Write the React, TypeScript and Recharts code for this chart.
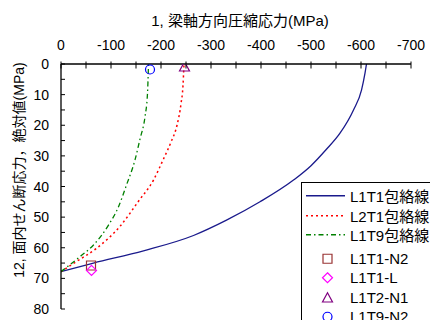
import { ComposedChart, Legend, Line, Scatter, XAxis, YAxis } from 'recharts';

// envelope curves (x: axial stress MPa, y: |shear stress| MPa)
const l1t1X = [0, -65, -165, -265, -331, -398, -465, -500, -530, -558, -585, -601, -608, -611];
const l1t1Y = [67.8, 65, 61, 56, 51, 45, 37.9, 33.2, 28, 22.6, 15, 8.5, 3, 0];

const l2t1X = [0, -31, -71, -118, -155, -185, -205, -220, -232, -240, -244, -246];
const l2t1Y = [67.8, 64.5, 60.2, 53, 44.8, 37.9, 31, 25.5, 20, 13, 7, 0];

const l1t9X = [0, -38, -65, -95, -115, -131, -148, -158, -168, -173, -175];
const l1t9Y = [67.8, 62.9, 59.1, 52.6, 46.6, 39.5, 31.3, 24.5, 17.2, 9.6, 0];

// test points
const l1t1N2 = [{ x: -60, y: 65.8 }];
const l1t1L = [{ x: -61, y: 67.4 }];
const l1t2N1 = [{ x: -247, y: 0.9 }];
const l1t9N2 = [{ x: -178, y: 1.8 }];

const xTicks = [0, -50, -100, -150, -200, -250, -300, -350, -400, -450, -500, -550, -600, -650, -700];
const yTicks = [0, 5, 10, 15, 20, 25, 30, 35, 40, 45, 50, 55, 60, 65, 70, 75, 80];

const xTitle = '1, 梁軸方向圧縮応力(MPa)';
const yTitle = '12, 面内せん断応力，絶対値(MPa)';

const FONT = '"Liberation Sans", Arial, "Noto Sans CJK JP", sans-serif';

const toPoints = (xs: number[], ys: number[]) => xs.map((x, i) => ({ x, y: ys[i] }));

const C = {
  l1t1: '#1a1a8c',
  l2t1: '#ff0000',
  l1t9: '#008000',
  sq: '#993333',
  dia: '#ff00ff',
  tri: '#800080',
  circ: '#0000ff',
};

function sqPath(cx: number, cy: number, r: number) {
  return `M${cx - r},${cy - r}h${2 * r}v${2 * r}h${-2 * r}Z`;
}
function diaPath(cx: number, cy: number, r: number) {
  return `M${cx},${cy - r}L${cx + r},${cy}L${cx},${cy + r}L${cx - r},${cy}Z`;
}
function triPath(cx: number, cy: number, r: number) {
  return `M${cx},${cy - r}L${cx + r},${cy + r * 0.85}L${cx - r},${cy + r * 0.85}Z`;
}

const markerShape = (kind: string, color: string) => (p: any) => {
  const { cx, cy } = p;
  if (kind === 'circle') {
    return <circle cx={cx} cy={cy} r={4.5} fill="none" stroke={color} strokeWidth={1.2} />;
  }
  const d = kind === 'square' ? sqPath(cx, cy, 4.5) : kind === 'diamond' ? diaPath(cx, cy, 5) : triPath(cx, cy, 5);
  return <path d={d} fill="none" stroke={color} strokeWidth={1.2} />;
};

// top axis: tick marks cross the axis line, labels only every 100
const XTick = (props: any) => {
  const { x, y, payload } = props;
  const major = payload.value % 100 === 0;
  return (
    <g>
      <line x1={x} x2={x} y1={y + 11.5} y2={y + 18.5} stroke="#000" strokeWidth={1} />
      {major && (
        <text x={x} y={y} textAnchor="middle" fontSize={14} fill="#000" fontFamily={FONT}>
          {payload.value}
        </text>
      )}
    </g>
  );
};

const YTick = (props: any) => {
  const { x, y, payload } = props;
  if (payload.value % 10 !== 0) return <g />;
  return (
    <text x={x} y={y} textAnchor="end" dominantBaseline="central" fontSize={14} fill="#000" fontFamily={FONT}>
      {payload.value}
    </text>
  );
};

const legendLines = [
  { name: 'L1T1包絡線', color: C.l1t1, dash: undefined, w: 1.3 },
  { name: 'L2T1包絡線', color: C.l2t1, dash: '2 3', w: 1.5 },
  { name: 'L1T9包絡線', color: C.l1t9, dash: '5 3 1.5 3', w: 1.3 },
];
const legendMarkers = [
  { name: 'L1T1-N2', kind: 'square', color: C.sq },
  { name: 'L1T1-L', kind: 'diamond', color: C.dia },
  { name: 'L1T2-N1', kind: 'triangle', color: C.tri },
  { name: 'L1T9-N2', kind: 'circle', color: C.circ },
];

const rowStyle = { height: 19.5, display: 'flex', alignItems: 'center', whiteSpace: 'nowrap' as const };

function renderLegend() {
  return (
    <div
      style={{
        border: '1px solid #000',
        background: '#fff',
        width: 140,
        height: 170,
        paddingTop: 3,
        fontFamily: FONT,
        fontSize: 15,
        color: '#000',
        boxSizing: 'border-box',
      }}
    >
      {legendLines.map((l) => (
        <div key={l.name} style={rowStyle}>
          <svg width={48} height={19.5} style={{ flex: 'none' }}>
            <line x1={4} x2={43} y1={9.75} y2={9.75} stroke={l.color} strokeWidth={l.w} strokeDasharray={l.dash} />
          </svg>
          <span>{l.name}</span>
        </div>
      ))}
      <div style={{ height: 4 }} />
      {legendMarkers.map((m) => (
        <div key={m.name} style={rowStyle}>
          <svg width={48} height={19.5} style={{ flex: 'none' }}>
            {markerShape(m.kind, m.color)({ cx: 25.5, cy: 9.75 })}
          </svg>
          <span>{m.name}</span>
        </div>
      ))}
    </div>
  );
}

export default function App() {
  return (
    <div
      style={{
        position: 'absolute',
        left: 0,
        top: 0,
        width: 430,
        height: 320,
        overflow: 'hidden',
        background: '#fff',
        fontFamily: FONT,
      }}
    >
      <ComposedChart width={430} height={320} margin={{ top: 0, right: 19, bottom: 11, left: 0 }}>
        <XAxis
          dataKey="x"
          type="number"
          orientation="top"
          domain={[-700, 0]}
          reversed
          ticks={xTicks}
          interval={0}
          height={64}
          tickSize={0}
          tickMargin={14}
          tick={<XTick />}
          axisLine={{ stroke: '#000', strokeWidth: 1.3 }}
          tickLine={false}
          allowDataOverflow
          label={{
            content: (p: any) => {
              const vb = p.viewBox;
              return (
                <text
                  x={vb.x + vb.width / 2 + 4}
                  y={20}
                  textAnchor="middle"
                  dominantBaseline="central"
                  fontSize={15}
                  fill="#000"
                  fontFamily={FONT}
                >
                  {xTitle}
                </text>
              );
            },
          }}
        />
        <XAxis
          xAxisId="b"
          type="number"
          orientation="bottom"
          domain={[-700, 0]}
          reversed
          height={0}
          tick={false}
          tickLine={false}
          axisLine={{ stroke: '#808080' }}
        />
        <YAxis
          dataKey="y"
          type="number"
          domain={[0, 80]}
          reversed
          ticks={yTicks}
          interval={0}
          width={61}
          tickSize={-4}
          tickMargin={16}
          tick={<YTick />}
          axisLine={{ stroke: '#000', strokeWidth: 1.3 }}
          tickLine={{ stroke: '#000' }}
          allowDataOverflow
          label={{
            content: () => (
              <text
                x={18.5}
                y={170}
                transform="rotate(-90 18.5 170)"
                textAnchor="middle"
                dominantBaseline="central"
                fontSize={14}
                fill="#000"
                fontFamily={FONT}
              >
                {yTitle}
              </text>
            ),
          }}
        />
        <YAxis
          yAxisId="r"
          type="number"
          orientation="right"
          domain={[0, 80]}
          width={0}
          tick={false}
          tickLine={false}
          axisLine={{ stroke: '#808080' }}
        />
        <Line
          data={toPoints(l1t1X, l1t1Y)}
          dataKey="y"
          type="monotone"
          stroke={C.l1t1}
          strokeWidth={1.3}
          dot={false}
          activeDot={false}
          isAnimationActive={false}
        />
        <Line
          data={toPoints(l2t1X, l2t1Y)}
          dataKey="y"
          type="monotone"
          stroke={C.l2t1}
          strokeWidth={1.5}
          strokeDasharray="2 3"
          dot={false}
          activeDot={false}
          isAnimationActive={false}
        />
        <Line
          data={toPoints(l1t9X, l1t9Y)}
          dataKey="y"
          type="monotone"
          stroke={C.l1t9}
          strokeWidth={1.3}
          strokeDasharray="5 3 1.5 3"
          dot={false}
          activeDot={false}
          isAnimationActive={false}
        />
        <Scatter data={l1t1N2} dataKey="y" shape={markerShape('square', C.sq)} isAnimationActive={false} />
        <Scatter data={l1t1L} dataKey="y" shape={markerShape('diamond', C.dia)} isAnimationActive={false} />
        <Scatter data={l1t2N1} dataKey="y" shape={markerShape('triangle', C.tri)} isAnimationActive={false} />
        <Scatter data={l1t9N2} dataKey="y" shape={markerShape('circle', C.circ)} isAnimationActive={false} />
        <Legend
          layout="horizontal"
          align="center"
          verticalAlign="middle"
          content={renderLegend}
          wrapperStyle={{ left: 301, top: 182, width: 140, height: 170 }}
        />
      </ComposedChart>
    </div>
  );
}
